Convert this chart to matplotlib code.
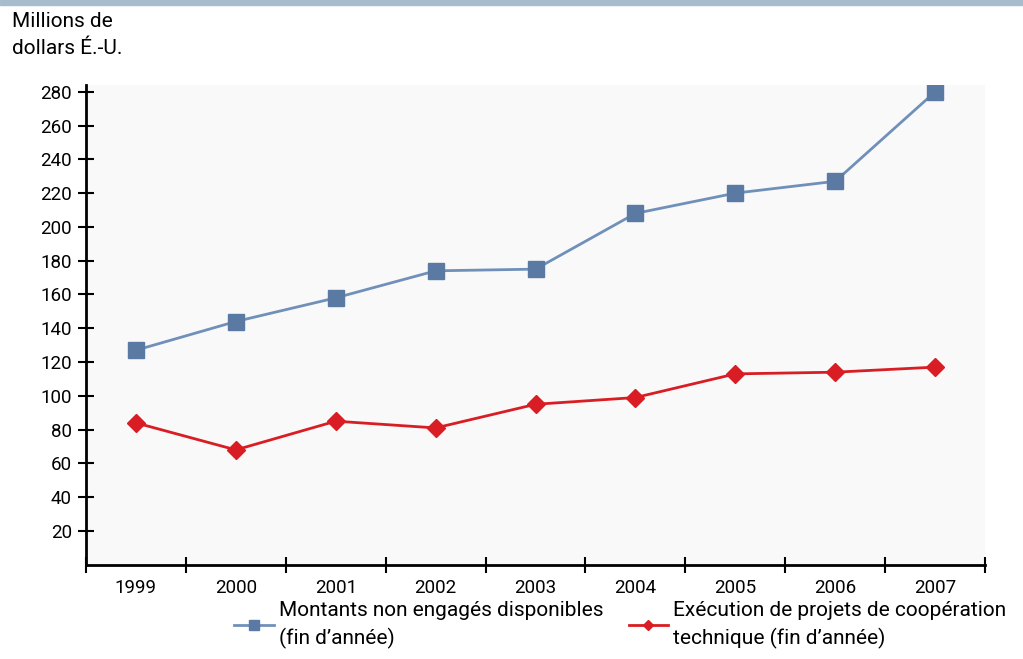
import matplotlib
matplotlib.use("Agg")
import matplotlib.pyplot as plt
from matplotlib.patches import Rectangle
from matplotlib.ticker import FixedLocator, NullFormatter

plt.rcParams['font.family'] = ['Roboto', 'DejaVu Sans']

years = ['1999', '2000', '2001', '2002', '2003', '2004', '2005', '2006', '2007']
non_engages = [127, 144, 158, 174, 175, 208, 220, 227, 280]
execution_tc = [84, 68, 85, 81, 95, 99, 113, 114, 117]
y_ticks = [20, 40, 60, 80, 100, 120, 140, 160, 180, 200, 220, 240, 260, 280]

blue = '#5a79a3'
red = '#d81e24'

fig = plt.figure(figsize=(10.23, 6.59), dpi=100)
ax = fig.add_axes([0.084, 0.143, 0.879, 0.728])
ax.set_facecolor('#f9f9f9')

# thin band across the top
fig.patches.append(Rectangle((0, 0.992), 1, 0.008, transform=fig.transFigure,
                             color='#a7bccd', zorder=0))

x = list(range(len(years)))
l1, = ax.plot(x, non_engages, color='#7090ba', lw=2, marker='s', ms=12,
              mfc=blue, mec=blue, zorder=3)
l2, = ax.plot(x, execution_tc, color=red, lw=2, marker='D', ms=9,
              mfc=red, mec=red, zorder=3)

ax.set_xlim(-0.5, len(years) - 0.5)
ax.set_ylim(0, 284)

# year labels sit between the tick marks
ax.xaxis.set_major_locator(FixedLocator([i - 0.5 for i in range(len(years) + 1)]))
ax.xaxis.set_major_formatter(NullFormatter())
ax.xaxis.set_minor_locator(FixedLocator(x))
ax.set_xticklabels(years, minor=True)
ax.tick_params(axis='x', which='minor', length=0, labelsize=13.5, pad=10)
ax.tick_params(axis='x', which='major', direction='inout', length=12, width=1.5)

ax.set_yticks(y_ticks)
ax.tick_params(axis='y', direction='inout', length=12, width=1.5, labelsize=13.5, pad=4)

for side in ['top', 'right']:
    ax.spines[side].set_visible(False)
for side in ['left', 'bottom']:
    ax.spines[side].set_linewidth(2)

fig.text(0.012, 0.982, 'Millions de\ndollars É.-U.', fontsize=15, va='top',
         ha='left', linespacing=1.55)

leg = fig.legend([l1, l2],
                 ['Montants non engagés disponibles\n(fin d\u2019année)',
                  'Exécution de projets de coopération\ntechnique (fin d\u2019année)'],
                 loc='upper left', bbox_to_anchor=(0.229, 0.088), ncol=2, frameon=False,
                 fontsize=15, handlelength=1.9, handletextpad=0.25, columnspacing=1.2,
                 markerscale=0.55, borderaxespad=0, borderpad=0)
for t in leg.get_texts():
    t.set_linespacing(1.5)

fig.savefig('out.png', dpi=100)
